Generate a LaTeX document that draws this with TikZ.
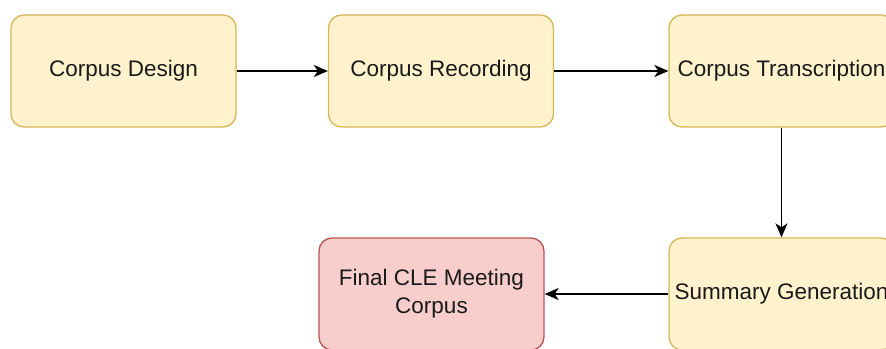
\documentclass[tikz,border=0pt]{standalone}
\usepackage{fontspec}
\setmainfont{Liberation Sans}
\usetikzlibrary{arrows.meta}
\definecolor{yfill}{HTML}{FFF2CC}
\definecolor{ydraw}{HTML}{D6B656}
\definecolor{rfill}{HTML}{F8CECC}
\definecolor{rdraw}{HTML}{B85450}
\definecolor{txt}{HTML}{1A1A1A}
\tikzset{
  box/.style={draw=ydraw, fill=yfill, rounded corners=13pt, line width=1.3pt,
    minimum width=225pt, minimum height=112pt, inner sep=0pt, align=center,
    text=txt, font=\fontsize{22.5}{28}\selectfont},
  finalbox/.style={box, draw=rdraw, fill=rfill},
  conn/.style={line width=1.8pt, -{Stealth[length=14pt,width=12pt,inset=4pt]}}
}
\begin{document}
\begin{tikzpicture}[x=1pt,y=-1pt]
\useasboundingbox (0,0) rectangle (886,348);
\node[box] (design) at (123.5,71) {Corpus Design};
\node[box] (record) at (441,71) {Corpus Recording};
\node[box] (trans) at (781.5,71) {Corpus Transcription};
\node[box] (summ) at (781.5,294) {Summary Generation};
\node[finalbox] (final) at (431.5,294) {Final CLE Meeting\\Corpus};
\draw[conn] (design.east) -- (record.west);
\draw[conn] (record.east) -- (trans.west);
\draw[conn] (trans.south) -- (summ.north);
\draw[conn] (summ.west) -- (final.east);
\end{tikzpicture}
\end{document}
